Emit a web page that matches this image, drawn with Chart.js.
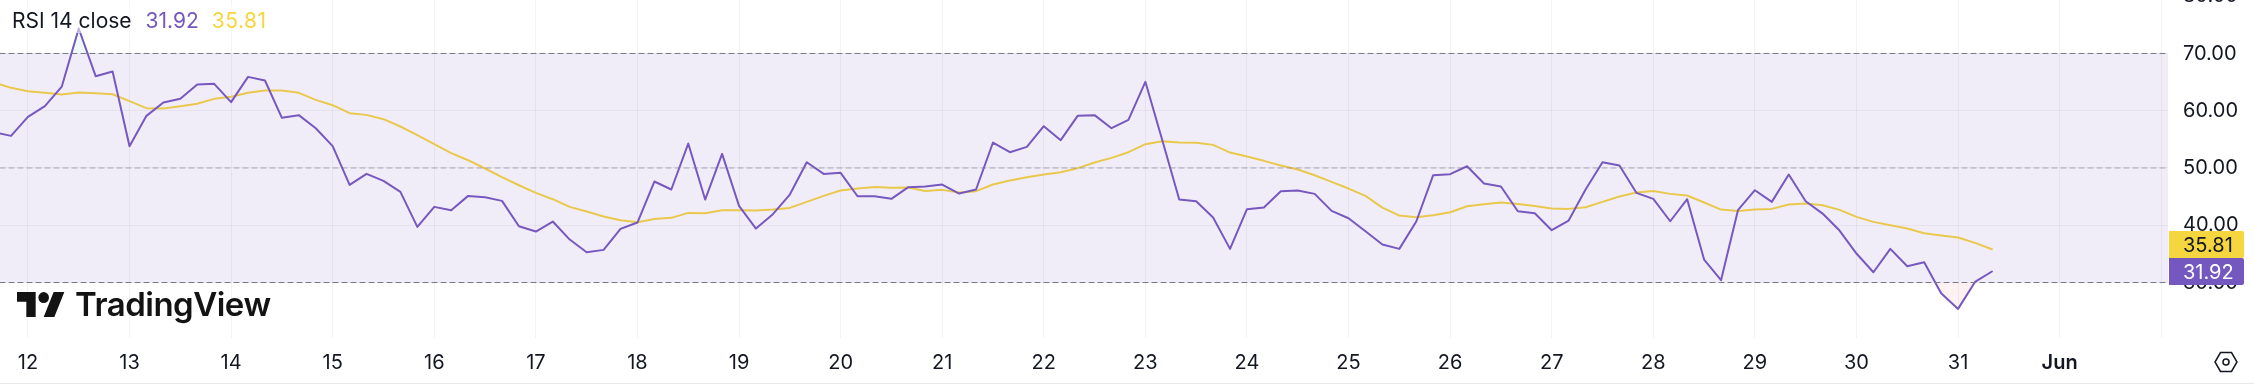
<!DOCTYPE html>
<html>
<head>
<meta charset="utf-8">
<title>RSI 14 close</title>
<script src="https://cdn.jsdelivr.net/npm/chart.js@4/dist/chart.umd.min.js"></script>
<style>
  html, body { margin: 0; padding: 0; background: #fff; overflow: hidden; width: 2254px; height: 388px; }
  body { position: relative; font-family: Inter, sans-serif; color: #131722; }
  #wrap { position: absolute; left: 0; top: -20px; width: 2254px; height: 408px; }
  #legend { position: absolute; left: 8px; top: 6px; height: 27px; padding: 0 4px; font-size: 21px; line-height: 30px; white-space: nowrap; background: rgba(255, 255, 255, 0.55); }
  #legend .rsi { color: #7558bf; margin-left: 14px; }
  #legend .ma { color: #f5d63f; margin-left: 13px; letter-spacing: 0.5px; }
  #logo { position: absolute; left: 17px; top: 288px; display: flex; align-items: center; }
  #logo span { font-size: 33px; font-weight: 600; letter-spacing: -0.5px; margin-left: 10px; color: #131313; line-height: 32px; }
  #gear { position: absolute; left: 2214px; top: 351px; }
  #rule { position: absolute; left: 0; top: 383px; width: 2254px; height: 1px; background: #e6e8ee; }
</style>
</head>
<body>
<div id="wrap"><canvas id="rsiChart" width="2254" height="408"></canvas></div>
<div id="legend">RSI 14 close<span class="rsi">31.92</span><span class="ma">35.81</span></div>
<div id="logo">
  <svg width="48" height="25" viewBox="0 4 36 18" preserveAspectRatio="none">
    <path fill="#131313" d="M14 22H7V11H0V4h14v18zM28 22h-8l7.5-18h8L28 22z"/><circle fill="#131313" cx="20" cy="8" r="4"/>
  </svg>
  <span>TradingView</span>
</div>
<svg id="gear" width="24" height="22" viewBox="0 0 24 22" fill="none" stroke="#131722" stroke-width="1.5">
  <path d="M6.5 1.5h11L23 11l-5.5 9.5h-11L1 11z"/><circle cx="12" cy="11" r="3"/>
</svg>
<div id="rule"></div>
<script>
// 4h candles, index 0 = midnight of the 12th
const firstIndex = -2
const rsiValues = [
  56.26, 55.61, 58.93, 60.80, 64.23, 74.37, 66.04, 66.86, 53.81, 59.11, 61.44, 62.08, 64.58, 64.70, 61.50, 65.92,
  65.28, 58.76, 59.23, 56.95, 53.81, 47.05, 48.97, 47.75, 45.83, 39.71, 43.21, 42.63, 45.13, 44.90, 44.26, 39.83,
  38.90, 40.65, 37.50, 35.29, 35.70, 39.37, 40.47, 47.64, 46.24, 54.27, 44.49, 52.47, 43.38, 39.42, 41.93, 45.36,
  51.01, 48.97, 49.15, 45.07, 45.07, 44.61, 46.65, 46.76, 47.11, 45.54, 46.24, 54.45, 52.76, 53.69, 57.30, 54.86,
  59.11, 59.23, 56.95, 58.41, 65.05, 54.86, 44.49, 44.20, 41.35, 35.87, 42.80, 43.09, 45.95, 46.06, 45.48, 42.51,
  41.23, 38.96, 36.63, 35.87, 40.65, 48.74, 48.92, 50.31, 47.29, 46.76, 42.45, 42.10, 39.13, 40.82, 46.24, 51.01,
  50.43, 45.66, 44.61, 40.70, 44.55, 34.01, 30.40, 42.63, 46.12, 44.08, 48.86, 44.20, 42.04, 39.07, 35.06, 31.79,
  35.87, 32.84, 33.54, 28.13, 25.39, 30.10, 31.92,
]
const maValues = [
  64.93, 64.00, 63.42, 63.13, 62.84, 63.19, 63.07, 62.89, 61.67, 60.45, 60.39, 60.80, 61.21, 62.08, 62.43, 63.13,
  63.54, 63.54, 63.13, 61.90, 60.97, 59.57, 59.28, 58.53, 57.25, 55.73, 54.16, 52.59, 51.36, 49.91, 48.39, 46.99,
  45.66, 44.55, 43.21, 42.39, 41.52, 40.88, 40.53, 41.11, 41.29, 42.16, 42.10, 42.63, 42.63, 42.57, 42.74, 43.03,
  44.08, 45.13, 46.06, 46.41, 46.70, 46.53, 46.59, 46.00, 46.18, 45.71, 45.95, 47.11, 47.81, 48.39, 48.86, 49.27,
  49.97, 50.96, 51.77, 52.76, 54.16, 54.68, 54.45, 54.39, 54.04, 52.70, 52.00, 51.25, 50.43, 49.73, 48.74, 47.58,
  46.41, 45.13, 43.09, 41.69, 41.40, 41.75, 42.28, 43.33, 43.68, 43.97, 43.73, 43.38, 42.92, 42.86, 43.15, 44.08,
  45.01, 45.71, 46.00, 45.48, 45.19, 43.97, 42.74, 42.51, 42.74, 42.86, 43.62, 43.79, 43.50, 42.69, 41.46, 40.59,
  40.01, 39.42, 38.61, 38.20, 37.85, 36.92, 35.81,
]
const dayLabels = ["12", "13", "14", "15", "16", "17", "18", "19", "20", "21", "22", "23", "24", "25", "26", "27", "28", "29", "30", "31", "Jun"]
const upperBand = 70
const middleBand = 50
const lowerBand = 30

const candlesPerDay = 6
const xMin = -1.65
const xMax = 126.4
const toPoints = values => values.map((v, i) => ({ x: i + firstIndex, y: v }))
const flatLine = v => [{ x: xMin, y: v }, { x: xMax, y: v }]

const PURPLE = "#7558bf"
const YELLOW = "#f5d63f"
const GRID = "rgba(42, 46, 57, 0.06)"

// price tags on the right, the yellow one gets pushed up when they would overlap
const priceTags = {
  id: "priceTags",
  afterDraw(chart) {
    const { ctx, scales, chartArea } = chart
    const x = chartArea.right + 1
    const w = 75
    const h = 27
    const rsiLast = rsiValues[rsiValues.length - 1]
    const maLast = maValues[maValues.length - 1]
    const rsiY = scales.y.getPixelForValue(rsiLast)
    const maY = Math.min(scales.y.getPixelForValue(maLast), rsiY - h)
    const tag = (cy, bg, fg, value) => {
      ctx.save()
      ctx.fillStyle = bg
      ctx.beginPath()
      ctx.roundRect(x, cy - h / 2, w, h, [0, 2, 2, 0])
      ctx.fill()
      ctx.fillStyle = fg
      ctx.font = "20px Inter"
      ctx.textBaseline = "middle"
      ctx.fillText(value.toFixed(2), chartArea.right + 15, cy + 1)
      ctx.restore()
    }
    tag(maY, YELLOW, "#131722", maLast)
    tag(rsiY, PURPLE, "#ffffff", rsiLast)
  },
}

new Chart(document.getElementById("rsiChart"), {
  type: "line",
  data: {
    datasets: [
      {
        // band between 30 and 70
        data: flatLine(upperBand),
        borderColor: "#787b86",
        borderWidth: 1,
        borderDash: [5, 4],
        fill: { target: { value: lowerBand }, above: "rgba(126, 87, 194, 0.11)", below: "rgba(126, 87, 194, 0.11)" },
      },
      { data: flatLine(middleBand), borderColor: "rgba(120, 123, 134, 0.6)", borderWidth: 1, borderDash: [5, 4] },
      { data: flatLine(lowerBand), borderColor: "#787b86", borderWidth: 1, borderDash: [5, 4] },
      {
        // overbought shading
        data: toPoints(rsiValues),
        borderWidth: 0,
        borderColor: "transparent",
        fill: { target: { value: upperBand }, above: "rgba(8, 153, 129, 0.06)", below: "transparent" },
      },
      {
        label: "RSI",
        data: toPoints(rsiValues),
        borderColor: PURPLE,
        borderWidth: 2,
        fill: { target: { value: lowerBand }, above: "transparent", below: "rgba(242, 54, 69, 0.07)" },
      },
      { label: "RSI MA", data: toPoints(maValues), borderColor: YELLOW, borderWidth: 2, fill: false },
    ],
  },
  options: {
    responsive: false,
    animation: false,
    parsing: false,
    normalized: true,
    layout: { padding: 0 },
    elements: { point: { radius: 0 }, line: { tension: 0, borderCapStyle: "round", borderJoinStyle: "round" } },
    plugins: { legend: { display: false }, title: { display: false }, tooltip: { enabled: false } },
    scales: {
      x: {
        type: "linear",
        min: xMin,
        max: xMax,
        afterFit: s => {
          s.height = 50
          s.paddingLeft = 0
          s.paddingRight = 0
        },
        border: { display: false },
        grid: { color: GRID, drawTicks: false },
        ticks: {
          stepSize: candlesPerDay,
          includeBounds: false,
          maxRotation: 0,
          autoSkip: false,
          padding: 13,
          color: "#131722",
          font: ctx => ({ family: "Inter", size: 20, weight: ctx.tick && ctx.tick.value === 120 ? "600" : "400" }),
          callback: v => dayLabels[v / candlesPerDay] ?? "",
        },
      },
      y: {
        position: "right",
        min: 20.306,
        max: 82.838,
        afterFit: s => {
          s.width = 86
          s.paddingTop = 0
          s.paddingBottom = 0
        },
        border: { display: false },
        grid: { color: GRID, drawTicks: false },
        ticks: {
          stepSize: 10,
          includeBounds: false,
          padding: 15,
          color: "#131722",
          font: { family: "Inter", size: 20 },
          callback: v => v.toFixed(2),
        },
      },
    },
  },
  plugins: [priceTags],
})
</script>
</body>
</html>
